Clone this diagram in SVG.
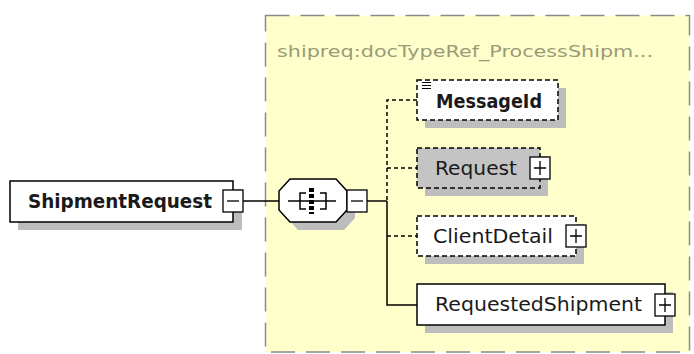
<svg xmlns="http://www.w3.org/2000/svg" width="694" height="354" viewBox="0 0 694 354">
<defs>
<style>
.lbl{font-family:"DejaVu Sans","Liberation Sans",sans-serif;font-size:19px;fill:#1a1a1a;}
.b{font-weight:bold;}
.shadow{fill:#bdbdbd;}
.box{stroke:#000;stroke-width:1.5;}
.dash{stroke-dasharray:5 3;}
.btn{fill:#fff;stroke:#000;stroke-width:1.3;}
.btnl{stroke:#000;stroke-width:1.3;fill:none;}
.conn{stroke:#000;stroke-width:1.5;fill:none;}
.cdash{stroke-dasharray:4 3;}
</style>
</defs>
<rect width="694" height="354" fill="#fff"/>
<g id="group-box">
<rect x="265.5" y="15.5" width="424" height="336.5" fill="#ffffcc" stroke="#8a8a8a" stroke-width="1.5" stroke-dasharray="24 11"/>
<text x="277" y="57" font-family="DejaVu Sans, Liberation Sans, sans-serif" font-size="16" fill="#9a9a78" textLength="376" lengthAdjust="spacingAndGlyphs">shipreq:docTypeRef_ProcessShipm...</text>
</g>
<g id="connectors">
<line class="conn" x1="243" y1="201" x2="279" y2="201"/>
<line class="conn" x1="367" y1="201" x2="387" y2="201"/>
<path class="conn cdash" d="M417 100 H387 V201"/>
<line class="conn cdash" x1="387" y1="168" x2="417" y2="168"/>
<line class="conn cdash" x1="387" y1="236" x2="417" y2="236"/>
<path class="conn" d="M387 201 V305 H417"/>
</g>
<g id="ShipmentRequest">
<rect class="shadow" x="18" y="189" width="224" height="41"/>
<rect class="box" x="10" y="181" width="223" height="41" fill="#fff"/>
<text class="lbl b" x="28" y="208" textLength="184" lengthAdjust="spacingAndGlyphs">ShipmentRequest</text>
<rect class="btn" x="223" y="190" width="20" height="22"/>
<line class="btnl" x1="227" y1="201" x2="239" y2="201"/>
</g>
<g id="sequence">
<polygon class="shadow" points="298,187 344,187 355,199 355,218 344,230 298,230 287,218 287,199"/>
<polygon points="290,179 336,179 347,191 347,210 336,222 290,222 279,210 279,191" fill="#fff" stroke="#000" stroke-width="1.5"/>
<line x1="288" y1="201" x2="336" y2="201" stroke="#000" stroke-width="1.5"/>
<path d="M306 193 H300 V209 H306 M320 193 H326 V209 H320" stroke="#000" stroke-width="1.5" fill="none"/>
<line x1="311.5" y1="188" x2="311.5" y2="214" stroke="#000" stroke-width="5" stroke-dasharray="4 2"/>
<rect class="btn" x="347" y="190" width="20" height="22"/>
<line class="btnl" x1="351" y1="201" x2="363" y2="201"/>
</g>
<g id="MessageId">
<rect class="shadow" x="425" y="88" width="141" height="40"/>
<rect class="box dash" x="417" y="80" width="141" height="40" fill="#fff"/>
<path d="M422 82.5 H431 M422 85.5 H431 M422 88.5 H431" stroke="#000" stroke-width="1.2"/>
<text class="lbl b" x="436" y="108" textLength="106" lengthAdjust="spacingAndGlyphs">MessageId</text>
</g>
<g id="Request">
<rect class="shadow" x="425" y="156" width="123" height="40"/>
<rect class="box dash" x="417" y="148" width="123" height="40" fill="#c4c4c4"/>
<text class="lbl" x="435" y="175" textLength="82" lengthAdjust="spacingAndGlyphs">Request</text>
<rect class="btn" x="530" y="157" width="20" height="22"/>
<path class="btnl" d="M534 168 H546 M540 161 V175"/>
</g>
<g id="ClientDetail">
<rect class="shadow" x="425" y="224" width="159" height="40"/>
<rect class="box dash" x="417" y="216" width="159" height="40" fill="#fff"/>
<text class="lbl" x="433" y="243" textLength="120" lengthAdjust="spacingAndGlyphs">ClientDetail</text>
<rect class="btn" x="566" y="225" width="20" height="22"/>
<path class="btnl" d="M570 236 H582 M576 229 V243"/>
</g>
<g id="RequestedShipment">
<rect class="shadow" x="425" y="292" width="248" height="41"/>
<rect class="box" x="417" y="284" width="248" height="41" fill="#fff"/>
<text class="lbl" x="435" y="311" textLength="207" lengthAdjust="spacingAndGlyphs">RequestedShipment</text>
<rect class="btn" x="655" y="294" width="20" height="22"/>
<path class="btnl" d="M659 305 H671 M665 298 V312"/>
</g>
</svg>
